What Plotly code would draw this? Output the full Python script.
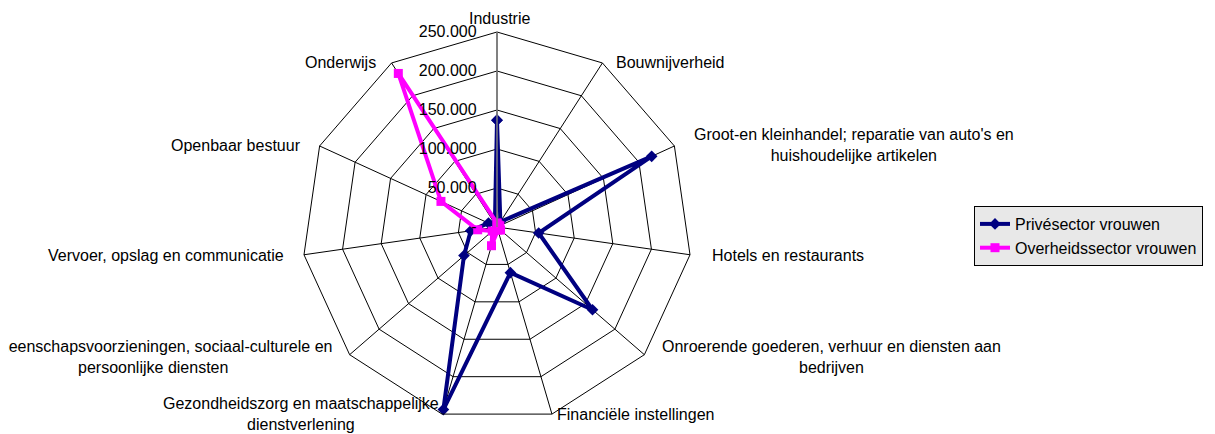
import plotly.graph_objects as go

categories = [
    "Industrie",
    "Bouwnijverheid",
    "Groot-en kleinhandel",
    "Hotels en restaurants",
    "Onroerende goederen",
    "Financiële instellingen",
    "Gezondheidszorg",
    "Gemeenschapsvoorzieningen",
    "Vervoer, opslag en communicatie",
    "Openbaar bestuur",
    "Onderwijs",
]
tick_labels = [
    "Industrie",
    "Bouwnijverheid",
    "Groot-en kleinhandel; reparatie van auto's en<br>huishoudelijke artikelen",
    "Hotels en restaurants",
    "Onroerende goederen, verhuur en diensten aan<br>bedrijven",
    "Financiële instellingen",
    "Gezondheidszorg en maatschappelijke<br>dienstverlening",
    "Gemeenschapsvoorzieningen, sociaal-culturele en<br>persoonlijke diensten",
    "Vervoer, opslag en communicatie",
    "Openbaar bestuur",
    "Onderwijs",
]
prive_vrouwen = [137000, 8000, 218000, 54000, 162000, 61000, 244000, 56000, 34000, 12000, 5000]
overheid_vrouwen = [5000, 3000, 4000, 3000, 6000, 4000, 25000, 8000, 25000, 79000, 234000]

radial_ticks = [0, 50000, 100000, 150000, 200000, 250000]
radial_labels = ["-", "50.000", "100.000", "150.000", "200.000", "250.000"]

FONT = "Liberation Sans, Arial, sans-serif"
FS = 16

# page body has an 8px margin; figure coordinates below are page coords minus 8
OFF = 8
W, H = 1215 - OFF, 434 - OFF
cx, cy, R = 497 - OFF, 227 - OFF, 195

# label placement (page coords): x, y, xanchor
label_pos = [
    (499, 18, "center"),
    (614, 62, "left"),
    (692, 145, "left"),
    (710, 255, "left"),
    (660, 357, "left"),
    (555, 414, "left"),
    (441, 414, "right"),
    (334, 357, "right"),
    (286, 255, "right"),
    (303, 145, "right"),
    (378, 62, "right"),
]

fig = go.Figure()
fig.add_trace(go.Scatterpolar(
    r=prive_vrouwen + prive_vrouwen[:1],
    theta=categories + categories[:1],
    mode="lines+markers",
    name="Privésector vrouwen",
    line=dict(color="#000080", width=4),
    marker=dict(symbol="diamond", size=9, color="#000080"),
))
fig.add_trace(go.Scatterpolar(
    r=overheid_vrouwen + overheid_vrouwen[:1],
    theta=categories + categories[:1],
    mode="lines+markers",
    name="Overheidssector vrouwen",
    line=dict(color="#FF00FF", width=4),
    marker=dict(symbol="square", size=9, color="#FF00FF"),
))

annotations = []
for text, (px, py, xa) in zip(tick_labels, label_pos):
    annotations.append(dict(
        text=text, x=(px - OFF) / W, y=1 - (py - OFF) / H,
        xref="paper", yref="paper", xanchor=xa, yanchor="middle",
        align="center", showarrow=False,
        font=dict(family=FONT, size=FS, color="black"),
    ))

fig.update_layout(
    width=W, height=H,
    margin=dict(l=0, r=0, t=0, b=0),
    paper_bgcolor="white",
    font=dict(family=FONT, size=FS, color="black"),
    annotations=annotations,
    polar=dict(
        domain=dict(x=[(cx - R) / W, (cx + R) / W], y=[(H - cy - R) / H, (H - cy + R) / H]),
        bgcolor="white",
        gridshape="linear",
        angularaxis=dict(
            categoryorder="array", categoryarray=categories,
            direction="clockwise", rotation=90,
            showline=True, linecolor="black", linewidth=1,
            gridcolor="black", gridwidth=1,
            ticks="", showticklabels=False,
        ),
        radialaxis=dict(
            range=[0, 250000], tickvals=radial_ticks, ticktext=radial_labels,
            angle=90, tickangle=90, side="counterclockwise",
            showline=True, linecolor="#808080", linewidth=1.5,
            gridcolor="black", gridwidth=1,
            ticks="outside", ticklen=14, tickcolor="rgba(0,0,0,0)",
            tickfont=dict(family=FONT, size=FS, color="black"),
        ),
    ),
    showlegend=True,
    legend=dict(
        x=(974 - OFF) / W, y=1 - (206 - OFF) / H, xanchor="left", yanchor="top",
        bgcolor="#e8e8e8", bordercolor="black", borderwidth=1,
        font=dict(family=FONT, size=FS, color="black"),
        tracegroupgap=0, itemsizing="trace",
    ),
)

fig.write_html("out.html")
